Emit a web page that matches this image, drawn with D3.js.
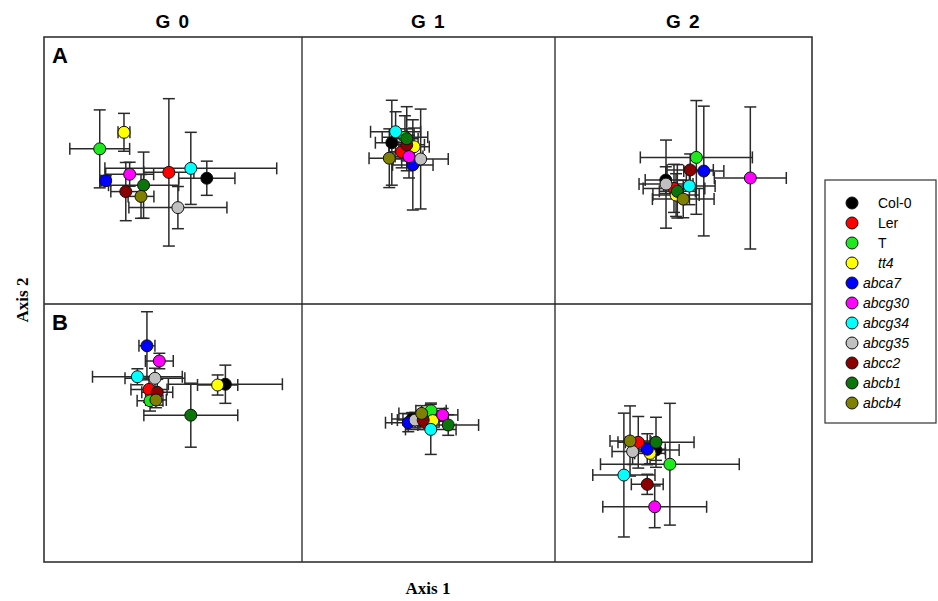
<!DOCTYPE html>
<html>
<head>
<meta charset="utf-8">
<script src="https://cdn.jsdelivr.net/npm/d3@7"></script>
<style>
  body { margin: 0; background: #fff; }
</style>
</head>
<body>
<div id="chart"></div>
<script>
// genotypes in legend order
const genotypes = ["Col-0", "Ler", "T", "tt4", "abca7", "abcg30", "abcg34", "abcg35", "abcc2", "abcb1", "abcb4"];
const italicNames = ["tt4", "abca7", "abcg30", "abcg34", "abcg35", "abcc2", "abcb1", "abcb4"];
const palette = ["#000000", "#ff0000", "#1ee81e", "#ffff00", "#0000ff", "#ff00ff", "#00ffff", "#c0c0c0", "#8b0000", "#0b740b", "#808000"];
const groups = ["G 0", "G 1", "G 2"];
const rowLabels = ["A", "B"];

// scores per panel (axis 1, axis 2) and their errors
const axis1_A_G0 = [63.1, 48.4, 21.6, 31.0, 23.9, 33.2, 56.9, 51.9, 31.7, 38.6, 37.6];
const axis2_A_G0 = [47.1, 49.3, 58.1, 64.3, 46.2, 48.6, 50.8, 36.1, 42.1, 44.5, 40.3];
const err1_A_G0  = [10.9, 9.7, 11.6, 2.3, 1.9, 9.3, 33.3, 19.0, 5.8, 13.6, 5.0];
const err2_A_G0  = [6.4, 27.6, 14.6, 7.1, 1.9, 4.5, 13.5, 7.9, 10.9, 12.4, 8.2];

const axis1_A_G1 = [35.5, 39.4, 40.7, 44.3, 43.8, 42.3, 37.0, 46.9, 41.4, 41.4, 34.5];
const axis2_A_G1 = [60.4, 57.0, 62.5, 58.9, 52.1, 55.2, 64.5, 54.3, 59.6, 61.9, 54.6];
const err1_A_G1  = [6.5, 5.0, 9.0, 6.0, 8.0, 5.5, 9.9, 10.9, 7.0, 4.5, 8.0];
const err2_A_G1  = [15.9, 6.0, 8.0, 7.0, 16.9, 8.0, 7.5, 18.7, 6.0, 12.0, 11.0];

const axis1_A_G2 = [43.1, 46.3, 55.0, 47.1, 57.9, 76.0, 52.3, 43.2, 52.6, 47.6, 49.9];
const axis2_A_G2 = [46.4, 43.3, 54.9, 40.8, 49.8, 47.2, 44.2, 44.9, 50.2, 42.2, 39.3];
const err1_A_G2  = [8.0, 12.0, 21.8, 9.0, 7.8, 14.0, 10.0, 10.5, 9.0, 7.0, 12.0];
const err2_A_G2  = [5.0, 9.0, 21.3, 8.0, 24.3, 26.6, 7.0, 16.5, 6.0, 10.0, 7.0];

const axis1_B_G0 = [70.3, 40.7, 41.1, 67.3, 39.9, 44.7, 36.2, 43.0, 43.9, 56.9, 43.4];
const axis2_B_G0 = [68.9, 66.9, 62.5, 68.6, 83.8, 77.9, 71.8, 71.2, 65.8, 56.9, 62.8];
const err1_B_G0  = [22.1, 7.0, 5.0, 7.8, 3.1, 5.4, 17.4, 11.6, 6.0, 18.2, 4.0];
const err2_B_G0  = [7.4, 5.0, 4.0, 3.9, 13.2, 3.0, 3.1, 3.9, 5.0, 12.4, 3.0];

const axis1_B_G1 = [43.5, 48.2, 51.0, 51.7, 42.0, 55.6, 50.9, 44.7, 47.9, 57.8, 47.3];
const axis2_B_G1 = [55.4, 54.4, 58.6, 54.8, 54.0, 57.0, 51.4, 55.0, 55.0, 53.1, 57.6];
const err1_B_G1  = [8.0, 6.0, 6.0, 5.0, 9.0, 6.0, 10.0, 7.0, 8.0, 12.0, 9.0];
const err2_B_G1  = [2.5, 3.0, 3.0, 2.5, 3.5, 2.5, 9.7, 3.0, 2.5, 4.0, 3.0];

const axis1_B_G2 = [39.3, 32.4, 44.7, 37.0, 35.9, 38.8, 26.8, 30.2, 35.9, 39.3, 29.2];
const axis2_B_G2 = [43.4, 46.4, 37.9, 42.1, 43.7, 21.4, 33.7, 42.8, 30.1, 46.4, 46.9];
const err1_B_G2  = [9.0, 5.0, 27.0, 6.0, 7.0, 20.2, 12.1, 8.0, 6.2, 14.8, 7.8];
const err2_B_G2  = [4.0, 10.0, 23.6, 4.0, 6.0, 8.1, 24.0, 5.0, 3.9, 9.7, 13.6];

const panels = [
    [[axis1_A_G0, axis2_A_G0, err1_A_G0, err2_A_G0], [axis1_A_G1, axis2_A_G1, err1_A_G1, err2_A_G1], [axis1_A_G2, axis2_A_G2, err1_A_G2, err2_A_G2]],
    [[axis1_B_G0, axis2_B_G0, err1_B_G0, err2_B_G0], [axis1_B_G1, axis2_B_G1, err1_B_G1, err2_B_G1], [axis1_B_G2, axis2_B_G2, err1_B_G2, err2_B_G2]]
];

const W = 938, H = 601;
const svg = d3.select("#chart").append("svg")
    .attr("width", W)
    .attr("height", H);

// panel grid edges
const colEdges = [44, 302, 555, 812];
const rowEdges = [37, 304, 562];
const cap = 6;

panels.forEach((row, r) => {
    row.forEach((p, c) => {
        const x = d3.scaleLinear().domain([0, 100]).range([colEdges[c], colEdges[c + 1]]);
        const y = d3.scaleLinear().domain([0, 100]).range([rowEdges[r + 1], rowEdges[r]]);
        const data = genotypes.map((g, i) => ({g, i, x: p[0][i], y: p[1][i], ex: p[2][i], ey: p[3][i]}));

        const g = svg.append("g");
        const bars = g.selectAll(".err").data(data).enter().append("g")
            .attr("class", "err")
            .attr("stroke", "#2a2a2a")
            .attr("stroke-width", 1.5);
        // horizontal error
        bars.append("line")
            .attr("x1", d => x(d.x - d.ex)).attr("x2", d => x(d.x + d.ex))
            .attr("y1", d => y(d.y)).attr("y2", d => y(d.y));
        bars.append("line")
            .attr("x1", d => x(d.x - d.ex)).attr("x2", d => x(d.x - d.ex))
            .attr("y1", d => y(d.y) - cap).attr("y2", d => y(d.y) + cap);
        bars.append("line")
            .attr("x1", d => x(d.x + d.ex)).attr("x2", d => x(d.x + d.ex))
            .attr("y1", d => y(d.y) - cap).attr("y2", d => y(d.y) + cap);
        // vertical error
        bars.append("line")
            .attr("x1", d => x(d.x)).attr("x2", d => x(d.x))
            .attr("y1", d => y(d.y - d.ey)).attr("y2", d => y(d.y + d.ey));
        bars.append("line")
            .attr("x1", d => x(d.x) - cap).attr("x2", d => x(d.x) + cap)
            .attr("y1", d => y(d.y - d.ey)).attr("y2", d => y(d.y - d.ey));
        bars.append("line")
            .attr("x1", d => x(d.x) - cap).attr("x2", d => x(d.x) + cap)
            .attr("y1", d => y(d.y + d.ey)).attr("y2", d => y(d.y + d.ey));

        g.selectAll(".dot").data(data).enter().append("circle")
            .attr("class", "dot")
            .attr("cx", d => x(d.x))
            .attr("cy", d => y(d.y))
            .attr("r", 6)
            .attr("fill", d => palette[d.i])
            .attr("stroke", "#111")
            .attr("stroke-width", 1);
    });
});

// grid lines and frame
for (let c = 1; c < 3; c++) {
    svg.append("line")
        .attr("x1", colEdges[c]).attr("x2", colEdges[c])
        .attr("y1", rowEdges[0]).attr("y2", rowEdges[2])
        .attr("stroke", "#222").attr("stroke-width", 1.3);
}
svg.append("line")
    .attr("x1", colEdges[0]).attr("x2", colEdges[3])
    .attr("y1", rowEdges[1]).attr("y2", rowEdges[1])
    .attr("stroke", "#222").attr("stroke-width", 1.3);
svg.append("rect")
    .attr("x", colEdges[0]).attr("y", rowEdges[0])
    .attr("width", colEdges[3] - colEdges[0])
    .attr("height", rowEdges[2] - rowEdges[0])
    .attr("fill", "none")
    .attr("stroke", "#333").attr("stroke-width", 1.6);

// column titles
groups.forEach((t, c) => {
    svg.append("text")
        .attr("x", (colEdges[c] + colEdges[c + 1]) / 2)
        .attr("y", 28)
        .attr("text-anchor", "middle")
        .attr("font-family", "Liberation Sans, Arial, sans-serif")
        .attr("font-weight", "bold")
        .attr("font-size", 19)
        .attr("letter-spacing", 1.5)
        .text(t);
});

// row letters
rowLabels.forEach((t, r) => {
    svg.append("text")
        .attr("x", 52)
        .attr("y", rowEdges[r] + 26)
        .attr("font-family", "Liberation Sans, Arial, sans-serif")
        .attr("font-weight", "bold")
        .attr("font-size", 22)
        .text(t);
});

// axis titles
svg.append("text")
    .attr("text-anchor", "middle")
    .attr("x", 428)
    .attr("y", 594)
    .attr("font-family", "Liberation Serif, Times New Roman, serif")
    .attr("font-weight", "bold")
    .attr("font-size", 17)
    .text("Axis 1");
svg.append("text")
    .attr("transform", "rotate(-90)")
    .attr("text-anchor", "middle")
    .attr("x", -300)
    .attr("y", 28)
    .attr("font-family", "Liberation Serif, Times New Roman, serif")
    .attr("font-weight", "bold")
    .attr("font-size", 17)
    .text("Axis 2");

// legend
const legend = svg.append("g");
legend.append("rect")
    .attr("x", 825).attr("y", 180)
    .attr("width", 111).attr("height", 243)
    .attr("fill", "none")
    .attr("stroke", "#333").attr("stroke-width", 1.2);
genotypes.forEach((gname, i) => {
    const ly = 203 + i * 20;
    legend.append("circle")
        .attr("cx", 852).attr("cy", ly)
        .attr("r", 6)
        .attr("fill", palette[i])
        .attr("stroke", "#111").attr("stroke-width", 1);
    legend.append("text")
        .attr("x", i < 4 ? 878 : 863)
        .attr("y", ly + 5)
        .attr("font-family", "Liberation Sans, Arial, sans-serif")
        .attr("font-size", 14)
        .attr("font-style", italicNames.includes(gname) ? "italic" : "normal")
        .text(gname);
});
</script>
</body>
</html>
